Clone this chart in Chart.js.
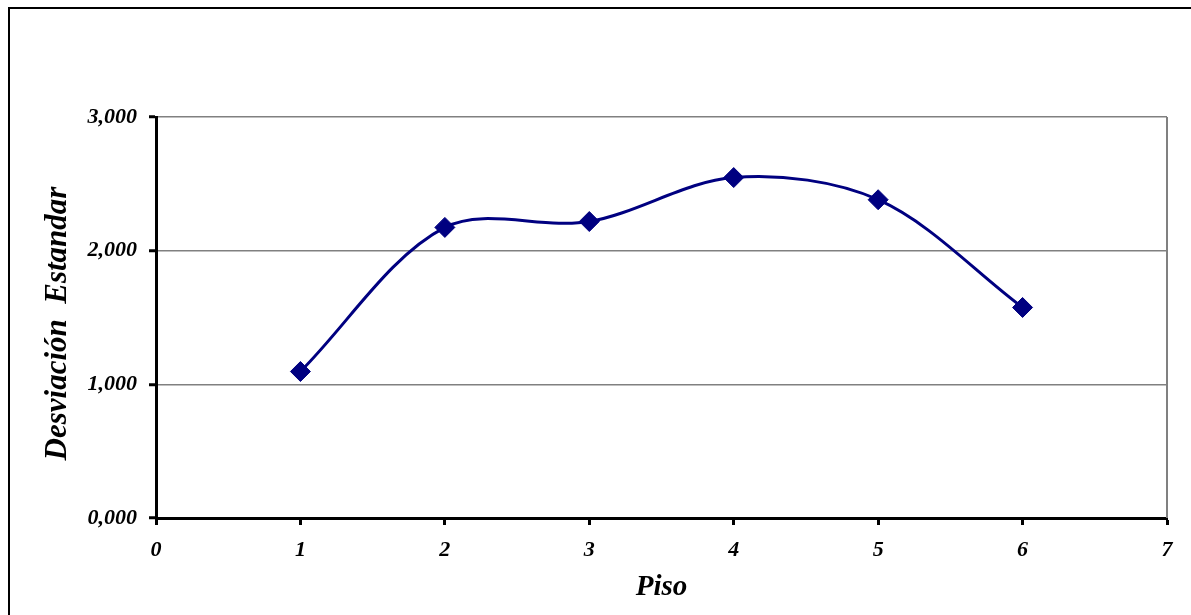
<!DOCTYPE html>
<html>
<head>
<meta charset="utf-8">
<script src="https://cdn.jsdelivr.net/npm/chart.js@4.4.0/dist/chart.umd.min.js"></script>
<style>
  html, body { margin: 0; padding: 0; background: #fff; overflow: hidden; }
  canvas { display: block; }
</style>
</head>
<body>
<canvas id="grafico" width="1191" height="615"></canvas>
<script>
// Desviación estándar por piso
const pisos = [1, 2, 3, 4, 5, 6];
const desviacion = [1.096, 2.174, 2.218, 2.547, 2.381, 1.575];
const xTickLabels = ['0', '1', '2', '3', '4', '5', '6', '7'];
const yTickLabels = ['0,000', '1,000', '2,000', '3,000'];
const xTitle = 'Piso';
const yTitle = 'Desviación  Estandar';

const serif = 'Liberation Serif, Times New Roman, serif';
const tickFont = { family: serif, size: 22, style: 'italic', weight: 'bold' };
const xTitleFont = { family: serif, size: 29, style: 'italic', weight: 'bold' };
const yTitleFont = { family: serif, size: 31, style: 'italic', weight: 'bold' };

// White page, outer frame, grey right edge of the plot area and the vertical axis title
const marco = {
  id: 'marco',
  beforeDraw(chart) {
    const { ctx, width, height } = chart;
    ctx.save();
    ctx.fillStyle = '#fff';
    ctx.fillRect(0, 0, width, height);
    ctx.fillStyle = '#000';
    ctx.fillRect(8, 7, width - 8, 2);
    ctx.fillRect(8, 7, 2, height - 7);
    ctx.restore();
  },
  beforeDatasetsDraw(chart) {
    const { ctx, chartArea: a } = chart;
    ctx.save();
    ctx.strokeStyle = '#808080';
    ctx.lineWidth = 2;
    ctx.beginPath();
    ctx.moveTo(a.right, a.top);
    ctx.lineTo(a.right, a.bottom);
    ctx.stroke();
    ctx.restore();
  },
  afterDraw(chart) {
    const { ctx, chartArea: a } = chart;
    ctx.save();
    ctx.translate(58, (a.top + a.bottom) / 2 + 6);
    ctx.rotate(-Math.PI / 2);
    ctx.font = `${yTitleFont.style} ${yTitleFont.weight} ${yTitleFont.size}px ${serif}`;
    ctx.fillStyle = '#000';
    ctx.textAlign = 'center';
    ctx.textBaseline = 'middle';
    ctx.fillText(yTitle, 0, 0);
    ctx.restore();
  }
};

new Chart(document.getElementById('grafico'), {
  type: 'line',
  data: {
    datasets: [{
      data: pisos.map((p, i) => ({ x: p, y: desviacion[i] })),
      borderColor: '#000080',
      borderWidth: 3,
      tension: 0.33,
      pointStyle: 'rectRot',
      pointRadius: 10,
      pointBackgroundColor: '#000080',
      pointBorderColor: '#000080',
      pointBorderWidth: 1
    }]
  },
  options: {
    responsive: false,
    animation: false,
    events: [],
    layout: { padding: { top: 117, right: 24, left: 0, bottom: 0 } },
    plugins: { legend: { display: false }, tooltip: { enabled: false } },
    scales: {
      x: {
        type: 'linear',
        min: 0,
        max: 7,
        afterFit(s) { s.height = 97; },
        ticks: {
          stepSize: 1,
          padding: 12,
          color: '#000',
          font: tickFont,
          callback: (v, i) => xTickLabels[i]
        },
        grid: { drawOnChartArea: false, drawTicks: true, tickLength: 7, tickWidth: 3, tickColor: '#000' },
        border: { color: '#000', width: 3 },
        title: { display: true, text: xTitle, color: '#000', font: xTitleFont, padding: { top: 0, bottom: 10 } }
      },
      y: {
        min: 0,
        max: 3,
        afterFit(s) { s.width = 156; },
        ticks: {
          stepSize: 1,
          padding: 12,
          color: '#000',
          font: tickFont,
          callback: (v, i) => yTickLabels[i]
        },
        grid: { color: '#808080', lineWidth: 1.5, tickLength: 7, tickWidth: 3, tickColor: '#000' },
        border: { color: '#000', width: 3 },
        title: { display: false }
      }
    }
  },
  plugins: [marco]
});
</script>
</body>
</html>
